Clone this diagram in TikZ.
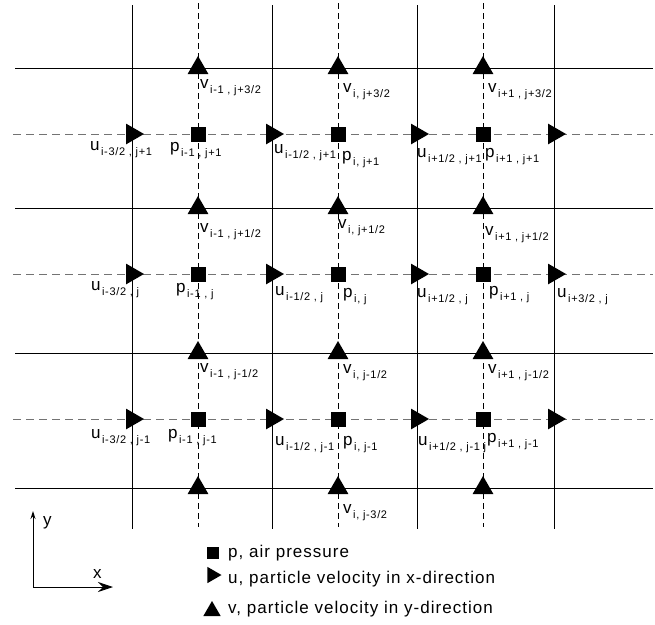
\documentclass[tikz,border=0pt]{standalone}
\usepackage{fontspec}
\setmainfont{Liberation Sans}
\newfontfamily\legendfont[LetterSpace=6]{Liberation Sans}
\newfontfamily\subfont[LetterSpace=6]{Liberation Sans}
\usepackage{tikz}
\usetikzlibrary{arrows.meta, shapes.geometric}

\newcommand{\gridlab}[2]{#1\hspace{1.5pt}\raisebox{-5pt}{\subfont\fontsize{11}{13}\selectfont #2}}

\begin{document}
\begin{tikzpicture}[x=1pt, y=-1pt, font=\fontsize{17}{20}\selectfont,
    pmark/.style={rectangle, fill=black, inner sep=0pt, minimum size=15pt},
    umark/.style={regular polygon, regular polygon sides=3, fill=black, inner sep=0pt, minimum size=24pt, rotate=-90},
    vmark/.style={regular polygon, regular polygon sides=3, fill=black, inner sep=0pt, minimum size=24pt},
    lab/.style={anchor=base west, inner sep=0pt}]
    \useasboundingbox (0,0) rectangle (655,624);
    \def\xleft{15}
    \def\xright{653}
    \def\ytop{5}
    \def\ybot{529}

    % grid lines
    \foreach \ypos in {68, 208, 353, 488} {
        \draw[line width=0.8pt] (\xleft,\ypos) -- (\xright,\ypos);
    }
    \foreach \xpos in {132, 272, 417, 554} {
        \draw[line width=0.8pt] (\xpos,\ytop) -- (\xpos,\ybot);
    }
    \foreach \ypos in {134, 274, 419} {
        \draw[black!55, line width=0.8pt, dash pattern=on 8pt off 5pt] (\xleft-2,\ypos) -- (\xright,\ypos);
    }
    \foreach \xpos in {198, 338, 483} {
        \draw[line width=0.8pt, dash pattern=on 6pt off 4pt] (\xpos,\ytop-2) -- (\xpos,\ybot-2);
    }

    % markers
    \foreach \col/\xpos in {1/198, 2/338, 3/483} {
        \foreach \rw/\ypos in {1/134, 2/274, 3/419} {
            \node[pmark] (p-\col-\rw) at (\xpos,\ypos) {};
        }
        \foreach \rw/\ypos in {0/68, 1/208, 2/353, 3/488} {
            \node[vmark] (v-\col-\rw) at (\xpos,\ypos) {};
        }
    }
    \foreach \col/\xpos in {0/132, 1/272, 2/417, 3/554} {
        \foreach \rw/\ypos in {1/134, 2/274, 3/419} {
            \node[umark] (u-\col-\rw) at (\xpos,\ypos) {};
        }
    }

    % labels, row j+1
    \node[lab] (lu-0-1) at (90,150) {\gridlab{u}{i-3/2 , j+1}};
    \node[lab] (lp-1-1) at (170,151) {\gridlab{p}{i-1 , j+1}};
    \node[lab] (lu-1-1) at (274,153) {\gridlab{u}{i-1/2 , j+1}};
    \node[lab] (lp-2-1) at (342,160) {\gridlab{p}{i, j+1}};
    \node[lab] (lu-2-1) at (417,157) {\gridlab{u}{i+1/2 , j+1}};
    \node[lab] (lp-3-1) at (485,157) {\gridlab{p}{i+1 , j+1}};
    % v labels above and below row j+1
    \node[lab] (lv-1-0) at (200,88) {\gridlab{v}{i-1 , j+3/2}};
    \node[lab] (lv-2-0) at (343,92) {\gridlab{v}{i, j+3/2}};
    \node[lab] (lv-3-0) at (488,92) {\gridlab{v}{i+1 , j+3/2}};
    \node[lab] (lv-1-1) at (200,232) {\gridlab{v}{i-1 , j+1/2}};
    \node[lab] (lv-2-1) at (338,228) {\gridlab{v}{i, j+1/2}};
    \node[lab] (lv-3-1) at (485,235) {\gridlab{v}{i+1 , j+1/2}};

    % labels, row j
    \node[lab] (lu-0-2) at (91,290) {\gridlab{u}{i-3/2 , j}};
    \node[lab] (lp-1-2) at (176,292) {\gridlab{p}{i-1 , j}};
    \node[lab] (lu-1-2) at (275,295) {\gridlab{u}{i-1/2 , j}};
    \node[lab] (lp-2-2) at (343,297) {\gridlab{p}{i, j}};
    \node[lab] (lu-2-2) at (417,297) {\gridlab{u}{i+1/2 , j}};
    \node[lab] (lp-3-2) at (489,295) {\gridlab{p}{i+1 , j}};
    \node[lab] (lu-3-2) at (557,297) {\gridlab{u}{i+3/2 , j}};
    \node[lab] (lv-1-2) at (200,372) {\gridlab{v}{i-1 , j-1/2}};
    \node[lab] (lv-2-2) at (343,373) {\gridlab{v}{i, j-1/2}};
    \node[lab] (lv-3-2) at (488,373) {\gridlab{v}{i+1 , j-1/2}};

    % labels, row j-1
    \node[lab] (lu-0-3) at (91,438) {\gridlab{u}{i-3/2 , j-1}};
    \node[lab] (lp-1-3) at (168,438) {\gridlab{p}{i-1 , j-1}};
    \node[lab] (lu-1-3) at (275,445) {\gridlab{u}{i-1/2 , j-1}};
    \node[lab] (lp-2-3) at (343,445) {\gridlab{p}{i, j-1}};
    \node[lab] (lu-2-3) at (418,445) {\gridlab{u}{i+1/2 , j-1 j}};
    \node[lab] (lp-3-3) at (487,442) {\gridlab{p}{i+1 , j-1}};
    \node[lab] (lv-2-3) at (343,513) {\gridlab{v}{i, j-3/2}};

    % axes
    \coordinate (origin) at (33,587);
    \coordinate (y-tip) at (33,511);
    \coordinate (x-tip) at (113,587);
    \draw[line width=0.9pt, -{Stealth[length=8pt, width=5pt]}] (origin) -- (y-tip);
    \draw[line width=0.9pt, -{Stealth[length=15pt, width=10pt, inset=5pt]}] (origin) -- (x-tip);
    \node[lab] (y-lab) at (43,525) {y};
    \node[lab] (x-lab) at (93,578) {x};

    % legend
    \node[pmark, minimum size=12pt] (key-p) at (213,553) {};
    \node[umark, minimum size=19pt] (key-u) at (212,575) {};
    \node[vmark, minimum size=20pt] (key-v) at (212,611) {};
    \node[lab, font=\legendfont\fontsize{17}{20}\selectfont] (key-p-text) at (228,557) {p, air pressure};
    \node[lab, font=\legendfont\fontsize{17}{20}\selectfont] (key-u-text) at (228,583) {u, particle velocity in x-direction};
    \node[lab, font=\legendfont\fontsize{17}{20}\selectfont] (key-v-text) at (228,613) {v, particle velocity in y-direction};
\end{tikzpicture}
\end{document}
